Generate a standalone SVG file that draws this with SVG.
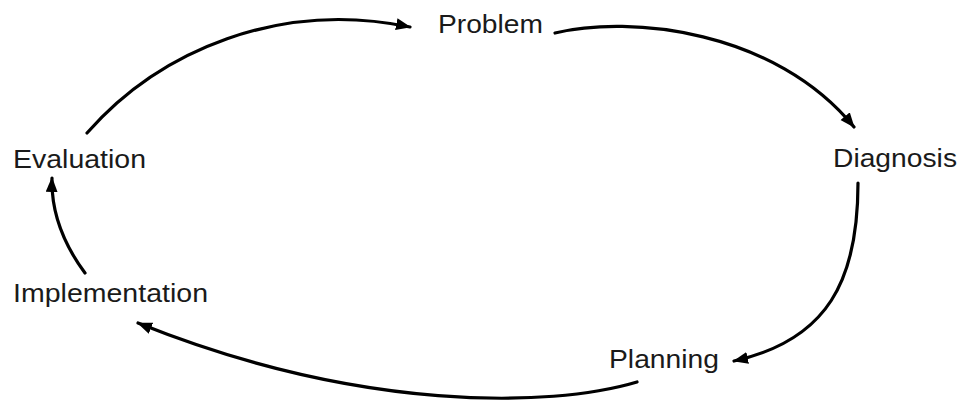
<svg xmlns="http://www.w3.org/2000/svg" width="961" height="402" viewBox="0 0 961 402">
<style>
.lbl{font-family:"Liberation Sans",Arial,sans-serif;font-size:26px;fill:#1a1a1a}
.con{fill:none;stroke:#000;stroke-width:3.2;stroke-linecap:round}
</style>
<defs>
<marker id="ah" markerUnits="userSpaceOnUse" markerWidth="16" markerHeight="14" refX="14" refY="6" orient="auto">
<path d="M0,0 L15,6 L0,12 Z" fill="#000"/>
</marker>
</defs>
<rect width="961" height="402" fill="#fff"/>
<g id="connectors">
<path class="con" d="M87,133 C160,50 280,0 410,27" marker-end="url(#ah)"/>
<path class="con" d="M555,33 C630,15 775,30 854,127" marker-end="url(#ah)"/>
<path class="con" d="M858,183 C858,280 828,340 734,361" marker-end="url(#ah)"/>
<path class="con" d="M637,382 C550,408 360,412 138,323" marker-end="url(#ah)"/>
<path class="con" d="M85,273 C62,242 51,212 52,178" marker-end="url(#ah)"/>
</g>
<g id="problem"><text class="lbl" x="438" y="33" textLength="105" lengthAdjust="spacingAndGlyphs">Problem</text></g>
<g id="diagnosis"><text class="lbl" x="833" y="167" textLength="124" lengthAdjust="spacingAndGlyphs">Diagnosis</text></g>
<g id="planning"><text class="lbl" x="609" y="368" textLength="110" lengthAdjust="spacingAndGlyphs">Planning</text></g>
<g id="implementation"><text class="lbl" x="13" y="302" textLength="195" lengthAdjust="spacingAndGlyphs">Implementation</text></g>
<g id="evaluation"><text class="lbl" x="13" y="168" textLength="133" lengthAdjust="spacingAndGlyphs">Evaluation</text></g>
</svg>
